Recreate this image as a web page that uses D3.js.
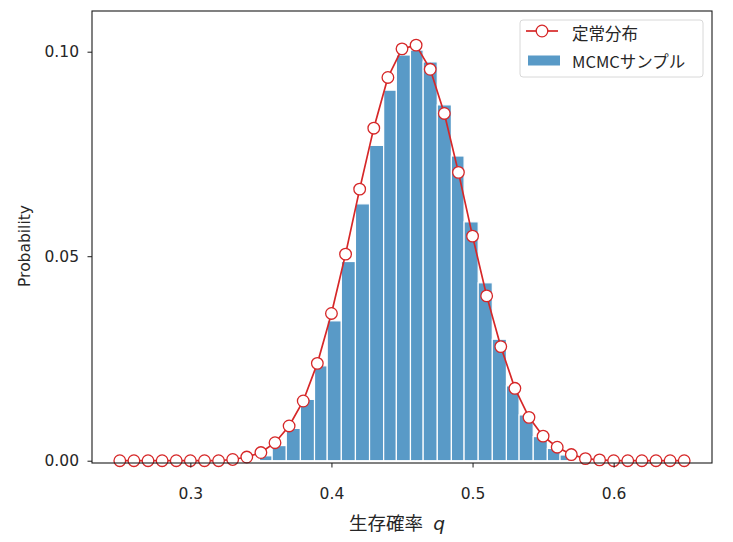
<!DOCTYPE html>
<html>
<head>
<meta charset="utf-8">
<script src="https://cdn.jsdelivr.net/npm/d3@7"></script>
<style>
  body { margin: 0; background: #fff; }
  svg text { font-family: "DejaVu Sans", "Noto Sans CJK JP", sans-serif; fill: #262626; }
</style>
</head>
<body>
<div id="chart"></div>
<script>
// stationary distribution, q = 0.25 .. 0.65 step 0.01
const qValues = [0.25, 0.26, 0.27, 0.28, 0.29, 0.30, 0.31, 0.32, 0.33, 0.34,
    0.35, 0.36, 0.37, 0.38, 0.39, 0.40, 0.41, 0.42, 0.43, 0.44,
    0.45, 0.46, 0.47, 0.48, 0.49, 0.50, 0.51, 0.52, 0.53, 0.54,
    0.55, 0.56, 0.57, 0.58, 0.59, 0.60, 0.61, 0.62, 0.63, 0.64, 0.65]
const stationary = [0, 0, 0, 0, 0, 0, 0, 0, 0.0003, 0.0009,
    0.0020, 0.0044, 0.0085, 0.0146, 0.0238, 0.0360, 0.0505, 0.0664, 0.0813, 0.0937,
    0.1007, 0.1016, 0.0957, 0.0849, 0.0705, 0.0549, 0.0403, 0.0279, 0.0177, 0.0106,
    0.0060, 0.0033, 0.0015, 0.0005, 0.0002, 0, 0, 0, 0, 0, 0]

// MCMC histogram: bin edges and per-bin probability
const binEdges = [0.349, 0.358, 0.368, 0.378, 0.388, 0.397, 0.407, 0.417, 0.427, 0.437,
    0.446, 0.456, 0.465, 0.475, 0.485, 0.494, 0.504, 0.514, 0.524, 0.533,
    0.543, 0.553, 0.562, 0.572]
const binProb = [0.0012, 0.0037, 0.0079, 0.0150, 0.0232, 0.0342, 0.0487, 0.0628, 0.0771, 0.0906,
    0.0992, 0.1004, 0.0975, 0.0870, 0.0745, 0.0584, 0.0435, 0.0297, 0.0183, 0.0112,
    0.0059, 0.0030, 0.0014]

const xTicks = [0.3, 0.4, 0.5, 0.6]
const yTicks = [0.00, 0.05, 0.10]
const legendLabels = ['定常分布', 'MCMCサンプル']

const width = 733
const height = 542
const margin = { top: 11, right: 21, bottom: 79, left: 92 }

const red = '#d62728'
const blue = '#1f77b4'

const svg = d3.select('#chart').append('svg')
    .attr('width', width)
    .attr('height', height)

const x = d3.scaleLinear()
    .domain([0.2303, 0.6697])
    .range([margin.left, width - margin.right])

const y = d3.scaleLinear()
    .domain([-0.00056, 0.10995])
    .range([height - margin.bottom, margin.top])

// histogram bars
const bins = binProb.map((p, i) => ({ x0: binEdges[i], x1: binEdges[i + 1], p }))
svg.append('g')
    .selectAll('rect')
    .data(bins)
    .enter()
        .append('rect')
            .attr('x', d => x(d.x0))
            .attr('width', d => x(d.x1) - x(d.x0))
            .attr('y', d => y(d.p))
            .attr('height', d => y(0) - y(d.p))
            .attr('fill', blue)
            .attr('fill-opacity', 0.74)
            .attr('stroke', '#fff')
            .attr('stroke-width', 1.2)

// stationary line + markers
const points = qValues.map((q, i) => ({ q, p: stationary[i] }))
const line = d3.line().x(d => x(d.q)).y(d => y(d.p))
svg.append('path')
    .datum(points)
    .attr('d', line)
    .attr('fill', 'none')
    .attr('stroke', red)
    .attr('stroke-width', 1.7)

svg.append('g')
    .selectAll('circle')
    .data(points)
    .enter()
        .append('circle')
            .attr('cx', d => x(d.q))
            .attr('cy', d => y(d.p))
            .attr('r', 5.8)
            .attr('fill', '#fff')
            .attr('stroke', red)
            .attr('stroke-width', 1.3)

// axes
const xAxis = svg.append('g')
    .attr('transform', `translate(0, ${height - margin.bottom})`)
    .call(d3.axisBottom(x).tickValues(xTicks).tickFormat(d3.format('.1f')).tickSize(4.5).tickPadding(20))
const yAxis = svg.append('g')
    .attr('transform', `translate(${margin.left}, 0)`)
    .call(d3.axisLeft(y).tickValues(yTicks).tickFormat(d3.format('.2f')).tickSize(4.5).tickPadding(8.5))

;[xAxis, yAxis].forEach(a => {
    a.select('.domain').remove()
    a.selectAll('line').attr('stroke', '#1a1a1a').attr('stroke-width', 1)
    a.selectAll('text').attr('font-size', 15.5).style('font-family', '"DejaVu Sans", sans-serif')
})

// frame
svg.append('rect')
    .attr('x', margin.left)
    .attr('y', margin.top)
    .attr('width', width - margin.left - margin.right)
    .attr('height', height - margin.top - margin.bottom)
    .attr('fill', 'none')
    .attr('stroke', '#1a1a1a')
    .attr('stroke-width', 1.1)

// axis labels
const xLabel = svg.append('text')
    .attr('x', 397)
    .attr('y', 530)
    .attr('text-anchor', 'middle')
    .attr('font-size', 18.5)
xLabel.append('tspan').style('font-family', '"Noto Sans CJK JP", sans-serif').text('生存確率')
xLabel.append('tspan').attr('dx', 10).attr('font-style', 'italic').style('font-family', '"DejaVu Sans", sans-serif').text('q')

svg.append('text')
    .attr('transform', `translate(25, 246) rotate(-90)`)
    .attr('text-anchor', 'middle')
    .attr('dy', '0.35em')
    .attr('font-size', 15.5)
    .text('Probability')

// legend
const legend = svg.append('g').attr('transform', 'translate(520, 20)')
legend.append('rect')
    .attr('width', 183)
    .attr('height', 57)
    .attr('rx', 3)
    .attr('fill', '#fff')
    .attr('fill-opacity', 0.8)
    .attr('stroke', '#d8d8d8')
legend.append('line')
    .attr('x1', 6).attr('x2', 38)
    .attr('y1', 11).attr('y2', 11)
    .attr('stroke', red)
    .attr('stroke-width', 1.7)
legend.append('circle')
    .attr('cx', 22).attr('cy', 11).attr('r', 5.8)
    .attr('fill', '#fff').attr('stroke', red).attr('stroke-width', 1.3)
legend.append('rect')
    .attr('x', 8).attr('y', 35.5)
    .attr('width', 32).attr('height', 10)
    .attr('fill', blue).attr('fill-opacity', 0.74)
legendLabels.forEach((label, i) => {
    legend.append('text')
        .attr('x', 52)
        .attr('y', 14 + i * 28)
        .attr('dy', '0.36em')
        .attr('font-size', 16.5)
        .style('font-family', '"Noto Sans CJK JP", sans-serif')
        .text(label)
})
</script>
</body>
</html>
